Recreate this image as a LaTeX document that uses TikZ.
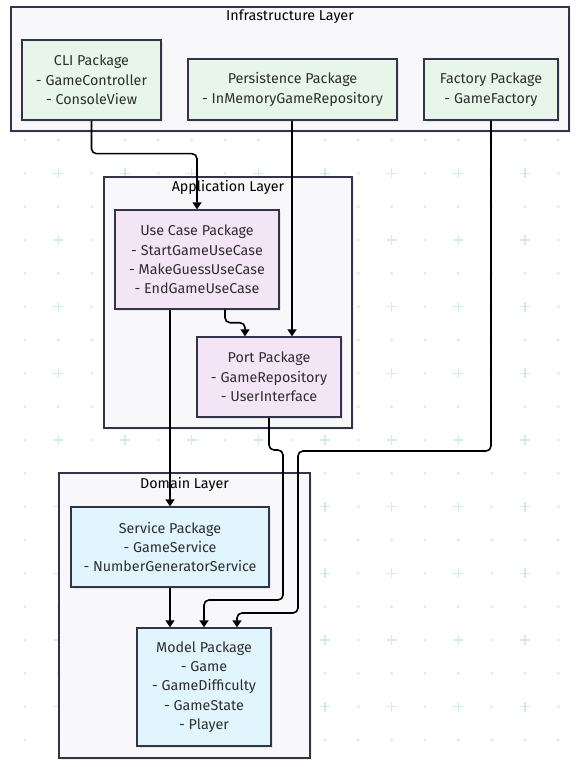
\documentclass[tikz,border=0pt]{standalone}
\usepackage{fontspec}
\setmainfont{Fira Sans}
\usetikzlibrary{arrows.meta,shadows,calc}

\definecolor{infrafill}{HTML}{E8F5E9}
\definecolor{appfill}{HTML}{F3E5F5}
\definecolor{domfill}{HTML}{E1F5FE}
\definecolor{layerfill}{HTML}{F8F8FB}
\definecolor{edgecol}{HTML}{33334A}
\definecolor{gridcol}{HTML}{D3E9EE}

\tikzset{
  layerbox/.style={draw=edgecol, line width=1.6pt, fill=layerfill,
    drop shadow={shadow xshift=2pt, shadow yshift=-2pt, opacity=0.12}},
  layertitle/.style={font=\fontsize{14.3}{16}\selectfont, text=black, inner sep=0pt},
  pkg/.style={draw=edgecol, line width=1.4pt, align=center, inner sep=0pt,
    font=\fontsize{14.3}{19.4}\selectfont, text=black!82,
    drop shadow={shadow xshift=2pt, shadow yshift=-2pt, opacity=0.15}},
  infra/.style={pkg, fill=infrafill},
  app/.style={pkg, fill=appfill},
  dom/.style={pkg, fill=domfill},
  conn/.style={draw=black, line width=1.6pt, rounded corners=5pt,
    -{Triangle[width=9pt,length=7pt]}},
  griddot/.style={fill=gridcol, draw=none},
  gridplus/.style={draw=gridcol, line width=1.4pt}
}

\begin{document}
\begin{tikzpicture}[x=1pt, y=-1pt]
  \useasboundingbox (0,0) rectangle (581,767);
  \fill[white] (0,0) rectangle (581,767);

  % dotted background grid with crosses on alternate rows
  \foreach \r in {0,...,9}{
    \foreach \c in {0,...,16}{
      \fill[griddot] ({25+33.333*\c},{140+66.667*\r}) circle (1.5);
    }
  }
  \foreach \r in {0,...,8}{
    \foreach \c in {0,...,16}{
      \pgfmathtruncatemacro{\odd}{mod(\c,2)}
      \ifnum\odd=1
        \draw[gridplus] ({25+33.333*\c-5},{173.333+66.667*\r}) -- ++(10,0)
                        ({25+33.333*\c},{173.333+66.667*\r-5}) -- ++(0,10);
      \else
        \fill[griddot] ({25+33.333*\c},{173.333+66.667*\r}) circle (1.5);
      \fi
    }
  }

  % layers
  \draw[layerbox] (11,7) rectangle (569,131);
  \node[layertitle] (tinfra) at (290,17) {Infrastructure Layer};
  \draw[layerbox] (104,177) rectangle (352,428);
  \node[layertitle] (tapp) at (228,187) {Application Layer};
  \draw[layerbox] (59,473) rectangle (310,758);
  \node[layertitle] (tdom) at (184.5,484) {Domain Layer};

  % infrastructure packages
  \node[infra, minimum width=139pt, minimum height=80pt] (cli) at (91.5,80)
    {CLI Package\\- GameController\\- ConsoleView};
  \node[infra, minimum width=209pt, minimum height=61pt] (per) at (292.5,89.5)
    {Persistence Package\\- InMemoryGameRepository};
  \node[infra, minimum width=134pt, minimum height=61pt] (fac) at (491,89.5)
    {Factory Package\\- GameFactory};

  % application packages
  \node[app, minimum width=164pt, minimum height=99pt] (uc) at (197,259.5)
    {Use Case Package\\- StartGameUseCase\\- MakeGuessUseCase\\- EndGameUseCase};
  \node[app, minimum width=144pt, minimum height=80pt] (port) at (269,377)
    {Port Package\\- GameRepository\\- UserInterface};

  % domain packages
  \node[dom, minimum width=198pt, minimum height=80pt] (svc) at (170,547)
    {Service Package\\- GameService\\- NumberGeneratorService};
  \node[dom, minimum width=134pt, minimum height=118pt] (model) at (204,687)
    {Model Package\\- Game\\- GameDifficulty\\- GameState\\- Player};

  % routing points
  \coordinate (p1) at (283,450);
  \coordinate (p2) at (204,600);
  \coordinate (f1) at (298,451);
  \coordinate (f2) at (237,613);

  % dependencies
  \draw[conn] (cli.south) -- ++(0,33) -| (uc.north);
  \draw[conn] ([xshift=-0.5pt]per.south) -- ([xshift=-0.5pt]per.south |- port.north);
  \draw[conn] ([xshift=28pt]uc.south) -- ++(0,13) -| ([xshift=-24pt]port.north);
  \draw[conn] ([xshift=-27pt]uc.south) -- (svc.north);
  \draw[conn] (svc.south) -- (svc.south |- model.north);
  \draw[conn] (port.south) |- (p1) |- (p2) -- (model.north);
  \draw[conn] (fac.south) |- (f1) |- (f2) -- (f2 |- model.north);
\end{tikzpicture}
\end{document}
